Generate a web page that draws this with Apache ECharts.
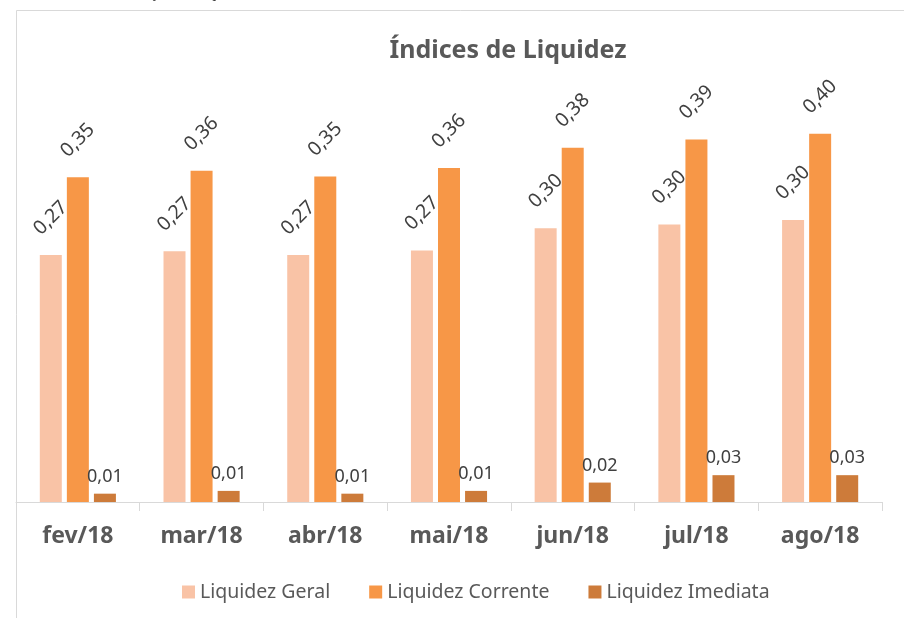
<!DOCTYPE html>
<html>
<head>
<meta charset="utf-8">
<script src="https://cdn.jsdelivr.net/npm/echarts@6/dist/echarts.min.js"></script>
<style>
html,body{margin:0;padding:0;background:#fff;}
#c{width:904px;height:618px;}
</style>
</head>
<body>
<div id="c"></div>
<script>
const categories = ['fev/18','mar/18','abr/18','mai/18','jun/18','jul/18','ago/18'];
const liquidezGeral = [0.267, 0.271, 0.267, 0.272, 0.296, 0.300, 0.305];
const liquidezCorrente = [0.351, 0.358, 0.352, 0.361, 0.383, 0.392, 0.398];
const liquidezImediata = [0.009, 0.012, 0.009, 0.012, 0.021, 0.029, 0.029];
const seriesNames = ['Liquidez Geral','Liquidez Corrente','Liquidez Imediata'];
const titleText = 'Índices de Liquidez';
const captionText = 'Gráfico 11 – Evolução da liquidez';

const fmt = p => p.value.toFixed(2).replace('.', ',');
const rotLabel = {
  show: true, position: 'top', distance: 37, rotate: 45,
  align: 'center', verticalAlign: 'middle',
  color: '#404040', fontSize: 19.5, fontFamily: 'Noto Sans', formatter: fmt
};
const flatLabel = {
  show: true, position: 'top', distance: 8,
  color: '#404040', fontSize: 18, fontFamily: 'Noto Sans', formatter: fmt
};

const chart = echarts.init(document.getElementById('c'), null, {renderer: 'canvas'});
chart.setOption({
  backgroundColor: '#ffffff',
  animation: false,
  title: {
    text: titleText, left: 503, top: 33, textAlign: 'center',
    textStyle: {fontFamily: 'Noto Sans', fontWeight: 'bold', fontSize: 25, color: '#595959'}
  },
  legend: {
    left: 177, top: 577, itemWidth: 13, itemHeight: 13, itemGap: 39,
    icon: 'rect',
    textStyle: {fontFamily: 'Noto Sans', fontSize: 19.5, color: '#595959'},
    data: seriesNames
  },
  grid: {left: 16, right: 22, top: 39.5, bottom: 116, containLabel: false},
  xAxis: {
    type: 'category', data: categories,
    axisLine: {lineStyle: {color: '#d9d9d9', width: 1}},
    axisTick: {show: true, length: 9, lineStyle: {color: '#d9d9d9'}},
    axisLabel: {margin: 23, fontFamily: 'Noto Sans', fontWeight: 'bold', fontSize: 23, color: '#595959'}
  },
  yAxis: {
    type: 'value', min: 0, max: 0.5, show: false,
    splitLine: {show: false}
  },
  graphic: [
    {type: 'line', shape: {x1: 16.5, y1: 10.5, x2: 904, y2: 10.5}, style: {stroke: '#d9d9d9', lineWidth: 1}},
    {type: 'line', shape: {x1: 16.5, y1: 10.5, x2: 16.5, y2: 618}, style: {stroke: '#d9d9d9', lineWidth: 1}},
    {type: 'text', left: 20, top: -16, style: {text: captionText, font: '17px "Liberation Serif"', fill: '#404040'}}
  ],
  series: [
    {name: seriesNames[0], type: 'bar', data: liquidezGeral, barWidth: 22, barGap: '23%',
     itemStyle: {color: '#F9C3A6'}, label: rotLabel},
    {name: seriesNames[1], type: 'bar', data: liquidezCorrente, barWidth: 22, barGap: '23%',
     itemStyle: {color: '#F79747'}, label: rotLabel},
    {name: seriesNames[2], type: 'bar', data: liquidezImediata, barWidth: 22, barGap: '23%',
     itemStyle: {color: '#CD7B3A'}, label: flatLabel}
  ]
});
</script>
</body>
</html>
